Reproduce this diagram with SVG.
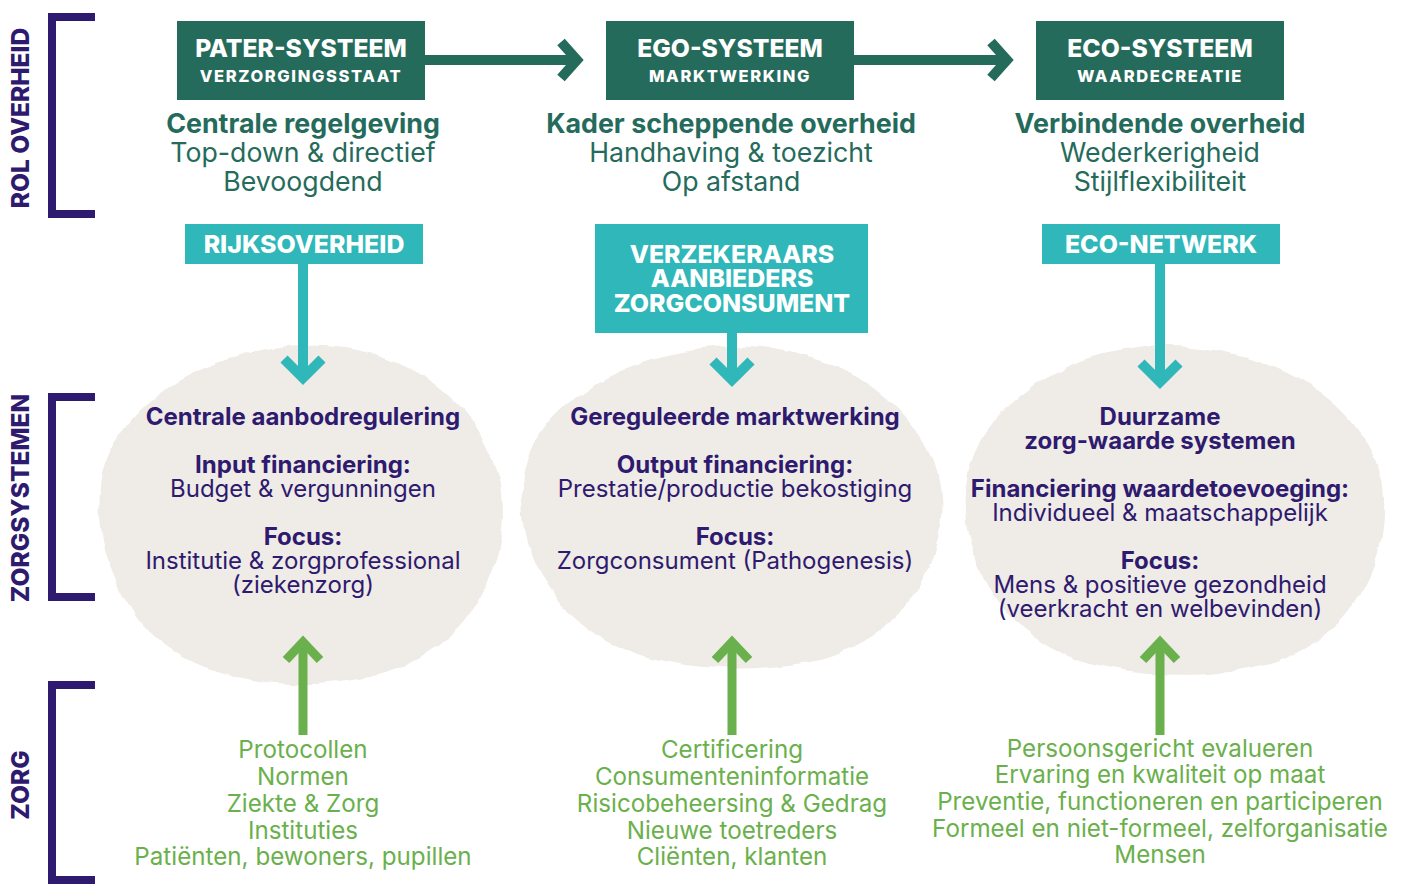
<svg xmlns="http://www.w3.org/2000/svg" width="1405" height="884" viewBox="0 0 1405 884">
<defs>
<style>
.side{font-family:Inter,"Noto Sans",sans-serif;font-weight:800;font-size:24.5px;fill:#2e1a6e;text-anchor:middle}
.brk{fill:none;stroke:#2e1a6e;stroke-width:8}
.dbox{fill:#256b5c}
.tbox{fill:#2fb7b9}
.h1{font-family:Inter,"Noto Sans",sans-serif;font-weight:800;font-size:24.7px;fill:#fff;text-anchor:middle}
.h2{font-family:Inter,"Noto Sans",sans-serif;font-weight:800;font-size:16.5px;fill:#fff;text-anchor:middle;letter-spacing:1.6px}
.gb{font-family:Inter,"Noto Sans",sans-serif;font-weight:700;font-size:26.8px;fill:#256b5c;text-anchor:middle}
.gr{font-family:Inter,"Noto Sans",sans-serif;font-weight:400;font-size:26.7px;fill:#256b5c;text-anchor:middle}
.tl{font-family:Inter,"Noto Sans",sans-serif;font-weight:800;font-size:24.9px;fill:#fff;text-anchor:middle}
.pb{font-family:Inter,"Noto Sans",sans-serif;font-weight:700;font-size:24px;fill:#2e1a6e;text-anchor:middle}
.pr{font-family:Inter,"Noto Sans",sans-serif;font-weight:400;font-size:24px;fill:#2e1a6e;text-anchor:middle}
.gn{font-family:Inter,"Noto Sans",sans-serif;font-weight:400;font-size:24.2px;fill:#6ab04c;text-anchor:middle}
.blob{fill:#efebe6}
.darr{fill:none;stroke:#256b5c;stroke-width:10}
.tarr{fill:none;stroke:#2fb7b9;stroke-width:10}
.garr{fill:none;stroke:#6ab04c;stroke-width:9}
</style>
<filter id="rough" x="-10%" y="-10%" width="120%" height="120%">
<feTurbulence type="fractalNoise" baseFrequency="0.03" numOctaves="3" seed="3" result="n"/>
<feDisplacementMap in="SourceGraphic" in2="n" scale="8" xChannelSelector="R" yChannelSelector="G"/>
</filter>
</defs>
<rect width="1405" height="884" fill="#fff"/>

<g id="blobs">
<path class="blob" filter="url(#rough)" d="M305,346 C400,342 480,400 500,480 C515,560 470,640 400,668 C340,690 260,690 200,665 C130,635 95,560 100,490 C105,410 200,350 305,346 Z"/>
<path class="blob" filter="url(#rough)" d="M730,347 C830,343 920,400 940,480 C955,560 900,640 820,660 C760,672 700,672 640,655 C560,630 520,560 522,490 C525,410 620,350 730,347 Z"/>
<path class="blob" filter="url(#rough)" d="M1160,346 C1270,344 1360,400 1382,480 C1395,560 1350,640 1270,664 C1210,680 1140,678 1080,660 C1000,632 962,560 966,490 C970,410 1060,350 1160,346 Z"/>
</g>

<g id="side-labels">
<path class="brk" d="M95,17 H52 V214 H95"/>
<text class="side" transform="translate(29,118) rotate(-90)">ROL OVERHEID</text>
<path class="brk" d="M95,397 H52 V597 H95"/>
<text class="side" transform="translate(29,498) rotate(-90)">ZORGSYSTEMEN</text>
<path class="brk" d="M95,685 H52 V880 H95"/>
<text class="side" transform="translate(29,785) rotate(-90)">ZORG</text>
</g>

<g id="connectors">
<line class="darr" x1="425" y1="60" x2="574" y2="60"/>
<polyline class="darr" points="561,42 577,60 561,78"/>
<line class="darr" x1="854" y1="60" x2="1004" y2="60"/>
<polyline class="darr" points="991,42 1007,60 991,78"/>
<line class="tarr" x1="303" y1="264" x2="303" y2="378"/>
<polyline class="tarr" points="284,359 303,378 322,359"/>
<line class="tarr" x1="732" y1="333" x2="732" y2="380"/>
<polyline class="tarr" points="713,361 732,380 751,361"/>
<line class="tarr" x1="1160" y1="264" x2="1160" y2="382"/>
<polyline class="tarr" points="1141,363 1160,382 1179,363"/>
<line class="garr" x1="303" y1="735" x2="303" y2="642"/>
<polyline class="garr" points="286,660 303,642 320,660"/>
<line class="garr" x1="732" y1="735" x2="732" y2="642"/>
<polyline class="garr" points="715,660 732,642 749,660"/>
<line class="garr" x1="1160" y1="735" x2="1160" y2="642"/>
<polyline class="garr" points="1143,660 1160,642 1177,660"/>
</g>

<g id="pater">
<rect class="dbox" x="177" y="21" width="248" height="79"/>
<text class="h1" x="301" y="57">PATER-SYSTEEM</text>
<text class="h2" x="301" y="82">VERZORGINGSSTAAT</text>
<text class="gb" x="303" y="133">Centrale regelgeving</text>
<text class="gr" x="303" y="162">Top-down &amp; directief</text>
<text class="gr" x="303" y="191">Bevoogdend</text>
</g>
<g id="ego">
<rect class="dbox" x="606" y="21" width="248" height="79"/>
<text class="h1" x="730" y="57">EGO-SYSTEEM</text>
<text class="h2" x="730" y="82">MARKTWERKING</text>
<text class="gb" x="731" y="133">Kader scheppende overheid</text>
<text class="gr" x="731" y="162">Handhaving &amp; toezicht</text>
<text class="gr" x="731" y="191">Op afstand</text>
</g>
<g id="eco">
<rect class="dbox" x="1036" y="21" width="248" height="79"/>
<text class="h1" x="1160" y="57">ECO-SYSTEEM</text>
<text class="h2" x="1160" y="82">WAARDECREATIE</text>
<text class="gb" x="1160" y="133">Verbindende overheid</text>
<text class="gr" x="1160" y="162">Wederkerigheid</text>
<text class="gr" x="1160" y="191">Stijlflexibiliteit</text>
</g>

<g id="rijksoverheid">
<rect class="tbox" x="185" y="224" width="238" height="40"/>
<text class="tl" x="304" y="253">RIJKSOVERHEID</text>
</g>
<g id="verzekeraars">
<rect class="tbox" x="595" y="224" width="273" height="109"/>
<text class="tl" x="732" y="263">VERZEKERAARS</text>
<text class="tl" x="732" y="287">AANBIEDERS</text>
<text class="tl" x="732" y="312">ZORGCONSUMENT</text>
</g>
<g id="eco-netwerk">
<rect class="tbox" x="1042" y="224" width="238" height="40"/>
<text class="tl" x="1161" y="253">ECO-NETWERK</text>
</g>

<g id="systeem-1">
<text class="pb" x="303" y="425">Centrale aanbodregulering</text>
<text class="pb" x="303" y="473">Input financiering:</text>
<text class="pr" x="303" y="497">Budget &amp; vergunningen</text>
<text class="pb" x="303" y="545">Focus:</text>
<text class="pr" x="303" y="569">Institutie &amp; zorgprofessional</text>
<text class="pr" x="303" y="593">(ziekenzorg)</text>
</g>
<g id="systeem-2">
<text class="pb" x="735" y="425">Gereguleerde marktwerking</text>
<text class="pb" x="735" y="473">Output financiering:</text>
<text class="pr" x="735" y="497">Prestatie/productie bekostiging</text>
<text class="pb" x="735" y="545">Focus:</text>
<text class="pr" x="735" y="569">Zorgconsument (Pathogenesis)</text>
</g>
<g id="systeem-3">
<text class="pb" x="1160" y="425">Duurzame</text>
<text class="pb" x="1160" y="449">zorg-waarde systemen</text>
<text class="pb" x="1160" y="497">Financiering waardetoevoeging:</text>
<text class="pr" x="1160" y="521">Individueel &amp; maatschappelijk</text>
<text class="pb" x="1160" y="569">Focus:</text>
<text class="pr" x="1160" y="593">Mens &amp; positieve gezondheid</text>
<text class="pr" x="1160" y="617">(veerkracht en welbevinden)</text>
</g>

<g id="zorg-1">
<text class="gn" x="303" y="758">Protocollen</text>
<text class="gn" x="303" y="785">Normen</text>
<text class="gn" x="303" y="812">Ziekte &amp; Zorg</text>
<text class="gn" x="303" y="839">Instituties</text>
<text class="gn" x="303" y="865">Patiënten, bewoners, pupillen</text>
</g>
<g id="zorg-2">
<text class="gn" x="732" y="758">Certificering</text>
<text class="gn" x="732" y="785">Consumenteninformatie</text>
<text class="gn" x="732" y="812">Risicobeheersing &amp; Gedrag</text>
<text class="gn" x="732" y="839">Nieuwe toetreders</text>
<text class="gn" x="732" y="865">Cliënten, klanten</text>
</g>
<g id="zorg-3">
<text class="gn" x="1160" y="757">Persoonsgericht evalueren</text>
<text class="gn" x="1160" y="783">Ervaring en kwaliteit op maat</text>
<text class="gn" x="1160" y="810">Preventie, functioneren en participeren</text>
<text class="gn" x="1160" y="837">Formeel en niet-formeel, zelforganisatie</text>
<text class="gn" x="1160" y="863">Mensen</text>
</g>
</svg>
